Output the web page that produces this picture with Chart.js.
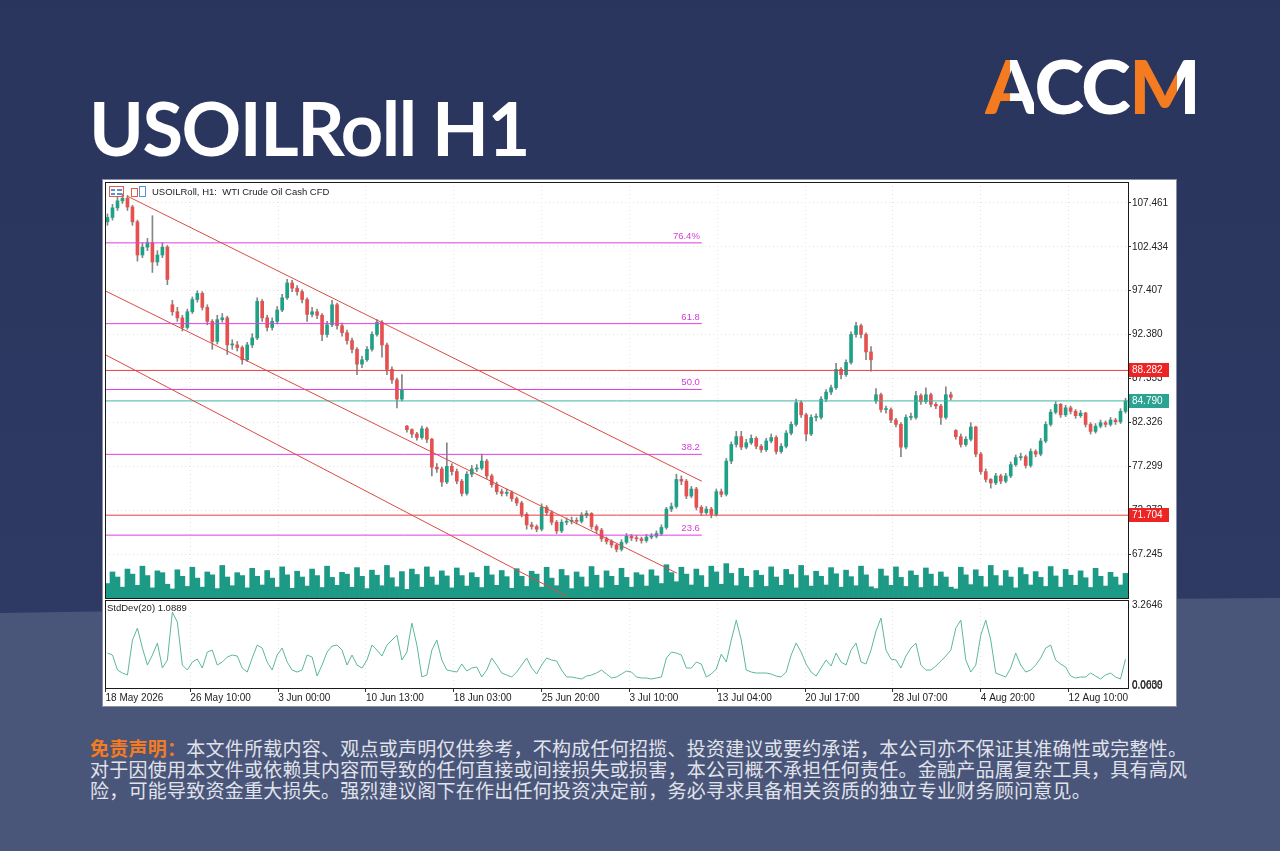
<!DOCTYPE html>
<html>
<head>
<meta charset="utf-8">
<script src="https://cdn.jsdelivr.net/npm/chart.js@4.4.1/dist/chart.umd.min.js"></script>
<style>
  html, body { margin: 0; padding: 0; }
  body { width: 1280px; height: 851px; position: relative; overflow: hidden;
         background: linear-gradient(180deg, #29355d 0%, #303c65 100%); }
  #band { position: absolute; left: 0; top: 0; width: 1280px; height: 851px; background: #4a5679;
          clip-path: polygon(0 613px, 640px 603px, 1280px 598px, 1280px 851px, 0 851px); }
  #title { position: absolute; left: 89px; top: 91px; font: 700 74px/1 Lato; letter-spacing: -1.5px; color: #fff; white-space: nowrap; }
  #logo { position: absolute; left: 985px; top: 48px; font: 900 75px/1 Lato; letter-spacing: -1.5px; color: #fff; white-space: nowrap; }
  #logo .a { background: linear-gradient(90deg, #f47b20 0 52%, #fff 52% 100%); -webkit-background-clip: text; background-clip: text; color: transparent; }
  #logo .m { background: linear-gradient(90deg, #f47b20 0 68%, #fff 68% 100%); -webkit-background-clip: text; background-clip: text; color: transparent; }
  #panel { position: absolute; left: 103px; top: 180px; width: 1073px; height: 526px; background: #fff; box-shadow: 0 0 0 1px #8a90a6; }
  #priceChart { position: absolute; left: 0; top: 0; }
  #stdChart { position: absolute; left: 0; top: 418px; }
  #note { position: absolute; left: 90px; top: 737px; font: 19px/21px "Noto Sans CJK SC"; letter-spacing: 0.25px; color: #e0e3eb; white-space: nowrap; }
  #note b { color: #f47b20; }
</style>
</head>
<body>
<div id="band"></div>
<div id="title">USOILRoll H1</div>
<div id="logo"><span class="a">A</span>CC<span class="m">M</span></div>
<div id="panel">
  <canvas id="priceChart" width="1073" height="420"></canvas>
  <canvas id="stdChart" width="1073" height="108"></canvas>
</div>
<div id="note"><b>免责声明：</b>本文件所载内容、观点或声明仅供参考，不构成任何招揽、投资建议或要约承诺，本公司亦不保证其准确性或完整性。<br>对于因使用本文件或依赖其内容而导致的任何直接或间接损失或损害，本公司概不承担任何责任。金融产品属复杂工具，具有高风<br>险，可能导致资金重大损失。强烈建议阁下在作出任何投资决定前，务必寻求具备相关资质的独立专业财务顾问意见。</div>

<script>
// ---- data (one entry ~ 7 H1 bars) ----
const dateLabels = ['18 May 2026', '26 May 10:00', '3 Jun 00:00', '10 Jun 13:00', '18 Jun 03:00', '25 Jun 20:00',
  '3 Jul 10:00', '13 Jul 04:00', '20 Jul 17:00', '28 Jul 07:00', '4 Aug 20:00', '12 Aug 10:00'];
const dateTickIndex = [-0.4, 16.6, 34.2, 51.8, 69.4, 87.0, 104.6, 122.2, 139.8, 157.4, 175.0, 192.6];
const priceTicks = [67.245, 72.272, 77.299, 82.326, 87.353, 92.380, 97.407, 102.434, 107.461];
const stdTicks = [0, 0.0639, 3.2646];

const opens = [105.3,105.8,106.9,107.7,108.0,107.0,105.3,101.5,102.4,102.9,
  100.7,101.5,102.4,95.8,95.0,94.3,93.2,95.0,96.4,97.1,
  95.5,93.9,91.6,94.1,94.3,91.2,91.2,90.9,89.5,91.2,
  92.0,96.2,94.3,93.2,93.9,95.2,96.6,98.3,97.7,97.3,
  96.4,94.7,95.0,94.6,92.4,93.5,95.8,93.4,92.6,91.7,
  90.7,89.0,89.5,90.7,92.4,93.8,91.2,88.4,87.2,85.0,
  81.9,81.5,81.0,80.6,81.6,80.4,77.2,77.0,75.5,77.3,
  76.7,75.6,74.2,76.4,77.0,77.1,77.9,76.2,75.2,74.4,
  74.2,74.3,73.6,73.1,71.8,70.6,70.4,70.1,72.6,72.0,
  70.9,69.9,70.9,71.0,71.1,71.0,71.7,71.9,70.4,70.0,
  69.0,68.7,68.3,67.8,68.6,69.3,69.1,69.0,68.8,69.2,
  69.3,69.6,70.3,72.4,72.7,75.8,75.6,73.9,74.7,72.6,
  72.0,72.4,71.8,74.4,74.1,77.9,79.8,80.7,79.5,80.0,
  80.5,79.6,79.2,80.2,80.6,79.0,79.6,81.1,82.1,84.6,
  83.2,81.0,82.9,82.9,85.0,85.8,86.3,88.4,87.8,89.2,
  92.4,93.4,92.4,90.4,84.8,85.5,83.8,83.8,82.6,82.1,
  79.5,82.9,82.9,85.4,84.7,85.5,84.4,84.2,82.9,85.5,
  81.4,80.7,79.8,80.4,81.8,78.7,76.7,75.8,75.4,76.2,
  75.6,76.2,77.5,78.3,78.4,77.4,79.0,78.7,80.2,82.1,
  83.5,84.4,83.2,84.0,83.6,83.1,83.4,82.1,81.3,81.9,
  82.3,82.1,82.6,82.4,83.6];
const highs = [106.2,107.3,108.2,108.5,108.3,107.2,105.5,102.9,103.4,106.0,
  102.0,102.9,102.6,96.3,95.5,94.6,95.3,96.7,97.4,97.3,
  95.8,94.1,94.6,94.8,94.5,91.8,91.6,91.1,91.5,92.5,
  96.6,96.4,94.6,94.3,95.6,97.0,98.7,98.6,98.0,97.5,
  96.6,95.5,95.3,94.8,93.9,96.3,96.0,93.7,92.9,92.0,
  90.9,89.9,91.0,92.7,94.1,94.0,91.4,88.7,87.4,87.8,
  82.0,81.6,81.2,81.9,81.8,80.5,77.6,77.2,80.0,77.6,
  77.0,75.8,76.7,77.4,77.5,78.7,78.1,76.4,75.5,74.7,
  74.7,74.5,73.8,73.3,72.0,70.9,70.6,73.0,72.8,72.2,
  71.1,71.2,71.4,71.5,71.4,72.0,72.2,72.0,70.6,70.2,
  69.2,68.9,68.4,68.9,69.6,69.5,69.4,69.2,69.5,69.6,
  69.9,70.6,72.6,73.1,76.4,76.2,75.8,75.0,74.9,72.8,
  72.7,72.6,74.7,74.7,78.2,80.1,81.3,81.3,80.4,80.9,
  80.7,79.8,80.5,81.0,80.8,79.9,81.4,82.4,85.0,84.8,
  83.4,83.2,83.3,85.3,86.1,86.6,89.1,88.6,89.5,92.7,
  93.8,93.6,92.6,91.0,86.2,85.7,84.2,84.0,82.8,82.3,
  83.2,83.4,85.9,85.6,86.3,85.7,84.6,84.4,86.4,85.8,
  81.5,81.0,80.7,82.3,81.9,78.9,77.0,75.9,76.5,76.4,
  76.5,77.8,78.6,78.8,78.6,79.3,79.2,80.5,82.4,83.8,
  84.7,84.5,84.3,84.2,83.8,83.7,83.5,82.3,82.2,82.6,
  82.5,82.9,82.8,83.9,85.1];
const lows = [104.9,105.5,106.6,107.4,106.6,104.9,100.8,101.2,102.0,99.5,
  100.3,101.2,98.1,94.6,93.9,92.8,93.0,94.8,96.1,95.2,
  93.5,90.7,91.3,93.8,90.1,90.7,90.5,89.0,89.3,90.9,
  91.8,93.9,92.8,92.9,93.6,95.0,96.4,97.3,96.9,96.0,
  93.9,94.4,94.2,91.7,92.1,93.3,93.0,92.2,91.3,90.3,
  87.8,88.6,89.3,90.5,92.2,89.8,87.8,86.8,84.0,84.8,
  81.2,80.6,80.3,80.4,80.0,76.2,76.6,75.0,75.3,76.3,
  75.3,73.9,74.0,76.1,76.7,76.9,75.9,74.9,74.1,73.9,
  73.9,73.3,72.8,71.5,70.1,70.1,69.8,69.9,71.7,70.6,
  69.6,69.7,70.6,70.7,70.7,70.8,71.4,70.1,69.7,68.7,
  68.4,68.0,67.5,67.6,68.4,68.8,68.7,68.5,68.6,69.0,
  69.1,69.4,70.1,72.1,72.5,75.2,73.6,73.7,72.3,71.7,
  71.8,71.4,71.6,73.8,73.9,77.6,79.5,79.2,79.3,79.8,
  79.3,78.9,79.0,80.0,78.7,78.8,79.4,80.9,81.9,82.9,
  80.2,80.8,82.5,82.7,84.7,85.5,86.1,87.3,87.6,89.0,
  92.1,92.0,89.5,88.2,84.5,83.5,83.4,82.3,81.8,78.4,
  79.3,82.6,82.7,84.4,84.5,84.1,83.9,82.1,82.7,84.9,
  80.4,79.5,79.6,80.2,78.4,76.4,75.5,74.8,75.2,75.3,
  75.4,76.0,77.3,78.0,77.1,77.2,78.4,78.5,80.0,81.9,
  83.3,82.9,83.0,83.3,82.8,82.9,81.8,81.0,81.1,81.7,
  81.8,81.9,82.1,82.2,83.4];
const closes = [105.8,106.9,107.7,108.0,107.0,105.3,101.5,102.4,102.9,100.7,
  101.5,102.4,98.7,95.0,94.3,93.2,95.0,96.4,97.1,95.5,
  93.9,91.6,94.1,94.3,91.2,91.2,90.9,89.5,91.2,92.0,
  96.2,94.3,93.2,93.9,95.2,96.6,98.3,97.7,97.3,96.4,
  94.7,95.0,94.6,92.4,93.5,95.8,93.4,92.6,91.7,90.7,
  89.0,89.5,90.7,92.4,93.8,91.2,88.4,87.2,85.0,86.1,
  81.5,81.0,80.6,81.6,80.4,77.2,77.0,75.5,77.3,76.7,
  75.6,74.2,76.4,77.0,77.1,77.9,76.2,75.2,74.4,74.2,
  74.3,73.6,73.1,71.8,70.6,70.4,70.1,72.6,72.0,70.9,
  69.9,70.9,71.0,71.1,71.0,71.7,71.9,70.4,70.0,69.0,
  68.7,68.3,67.8,68.6,69.3,69.1,69.0,68.8,69.2,69.3,
  69.6,70.3,72.4,72.7,75.8,75.6,73.9,74.7,72.6,72.0,
  72.4,71.8,74.4,74.1,77.9,79.8,80.7,79.5,80.0,80.5,
  79.6,79.2,80.2,80.6,79.0,79.6,81.1,82.1,84.6,83.2,
  81.0,82.9,82.9,85.0,85.8,86.3,88.4,87.8,89.2,92.4,
  93.4,92.4,90.4,89.5,85.5,83.8,83.8,82.6,82.1,79.5,
  82.9,82.9,85.4,84.7,85.5,84.4,84.2,82.9,85.5,85.2,
  80.7,79.8,80.4,81.8,78.7,76.7,75.8,75.4,76.2,75.6,
  76.2,77.5,78.3,78.4,77.4,79.0,78.7,80.2,82.1,83.5,
  84.4,83.2,84.0,83.6,83.1,83.4,82.1,81.3,81.9,82.3,
  82.1,82.6,82.4,83.6,84.79];
const volumes = [40,72,58,30,80,66,35,88,62,28,75,70,38,
  25,78,60,32,85,55,30,72,64,26,90,58,
  34,70,62,28,82,60,36,76,55,30,86,64,
  27,74,58,33,80,62,29,88,57,35,71,66,
  30,84,60,26,77,63,34,90,56,31,73,
  24,80,65,30,86,58,36,75,61,28,83,62,
  33,70,57,29,88,64,35,76,59,27,81,60,
  32,74,66,30,85,55,34,79,62,26,72,58,
  31,87,63,28,75,60,35,82,57,30,70,64,
  33,78,61,40,92,70,45,85,66,36,80,62,
  30,88,72,38,95,68,34,82,60,29,76,63,
  32,86,58,35,79,65,28,90,62,33,74,60,
  36,84,67,30,77,59,34,88,64,31,
  26,80,61,35,86,57,32,75,63,29,83,66,
  33,72,58,30,
  25,85,64,37,78,60,31,90,62,34,76,58,
  28,84,65,36,73,57,32,87,61,30,79,63,
  35,75,56,29,82,60,33,71,58,36,68];
const stdDev = [1.34,1.26,0.66,0.54,0.46,1.86,2.34,1.54,0.86,1.26,
  1.74,0.74,1.06,2.98,2.58,0.86,0.66,0.98,1.10,0.74,
  1.38,1.46,0.86,0.98,1.18,1.26,1.22,0.74,0.58,1.14,
  1.66,1.54,0.98,0.66,1.26,1.54,0.98,0.66,0.58,0.66,
  1.26,1.18,0.42,0.86,1.38,1.62,1.66,1.46,0.86,1.26,
  0.86,0.74,1.06,1.66,1.46,1.22,1.66,1.86,2.06,1.06,
  1.38,2.54,1.66,0.38,0.46,1.46,1.86,1.06,0.66,0.62,
  0.58,0.90,0.62,0.74,0.78,0.38,0.66,1.14,0.86,0.54,
  0.46,0.38,0.58,0.86,1.14,0.74,0.50,0.86,1.14,1.06,
  1.02,0.66,0.38,0.38,0.34,0.30,0.42,0.46,0.54,0.66,
  0.50,0.34,0.38,0.50,0.62,0.58,0.38,0.34,0.34,0.30,
  0.34,0.38,1.14,1.38,1.34,1.26,0.74,0.74,0.98,0.90,
  0.38,0.50,0.70,1.30,0.98,1.86,2.66,1.86,0.66,0.58,
  0.54,0.54,0.54,0.50,0.42,0.38,0.58,1.26,1.74,1.38,
  0.90,0.58,0.42,0.74,1.06,0.82,1.34,0.98,0.86,1.46,
  1.74,0.98,0.90,1.46,2.22,2.74,1.46,1.10,1.06,0.74,
  1.22,1.54,1.74,0.86,0.66,0.66,0.82,1.02,1.22,1.46,
  2.34,2.66,1.06,0.58,0.86,2.06,2.66,1.86,0.54,0.46,
  0.38,0.74,1.34,0.86,0.58,0.66,0.86,1.14,1.54,1.66,
  1.06,0.90,0.78,0.42,0.34,0.38,0.38,0.54,0.42,0.30,
  0.46,0.54,0.38,0.30,1.09];

// drawn objects, in bar index / price units
const fibLabels = ['76.4%', '61.8', '50.0', '38.2', '23.6'];
const fibPrices = [102.89, 93.64, 86.10, 78.67, 69.42];
const fibSpan = [-0.5, 119.1];
const channels = [[3.9, 108.26, 119.1, 75.59], [-0.5, 97.41, 114.1, 65.07], [-0.5, 90.10, 92.1, 62.41]];
const redLevels = [88.282, 71.704];
const lastPrice = 84.790;
const stdLast = 1.0889;

Chart.defaults.font.family = '"Liberation Sans", Arial, sans-serif';
Chart.defaults.animation = false;

const UP = '#1fa187', DOWN = '#e5514f';
const first = -0.5, last = closes.length - 0.5;

function seg(x1, y1, x2, y2, color) {
  return { type: 'line', data: [{ x: x1, y: y1 }, { x: x2, y: y2 }], borderColor: color, borderWidth: 1,
    pointRadius: 0, yAxisID: 'y', order: 0 };
}

let lineSets = [];
channels.forEach(c => lineSets.push(seg(c[0], c[1], c[2], c[3], '#dc4a44')));
fibPrices.forEach(p => lineSets.push(seg(fibSpan[0], p, fibSpan[1], p, '#e03ee0')));
redLevels.forEach(p => lineSets.push(seg(first, p, last, p, '#ec3d3d')));
lineSets.push(seg(first, lastPrice, last, lastPrice, '#3fb5a0'));

const zeroPad = s => { s.paddingTop = 0; s.paddingBottom = 0; s.paddingLeft = 0; s.paddingRight = 0; };

const priceDecor = {
  id: 'priceDecor',
  afterDraw(chart) {
    const { ctx, chartArea: a, scales: { x, y } } = chart;
    ctx.save();
    ctx.strokeStyle = '#1a1a1a';
    ctx.lineWidth = 1;
    ctx.strokeRect(Math.round(a.left) + 0.5, Math.round(a.top) + 0.5, Math.round(a.width), Math.round(a.height));

    ctx.font = '9.5px "Liberation Sans"';
    ctx.fillStyle = '#d63ad6';
    ctx.textAlign = 'right';
    ctx.textBaseline = 'bottom';
    fibLabels.forEach((t, k) => ctx.fillText(t, x.getPixelForValue(fibSpan[1]) - 2, y.getPixelForValue(fibPrices[k]) - 2));

    const box = (p, bg) => {
      const py = Math.round(y.getPixelForValue(p));
      ctx.fillStyle = bg;
      ctx.fillRect(a.right + 1, py - 7, 40, 14);
      ctx.fillStyle = '#fff';
      ctx.textAlign = 'left';
      ctx.textBaseline = 'middle';
      ctx.font = '10px "Liberation Sans"';
      ctx.fillText(p.toFixed(3), a.right + 4, py + 0.5);
    };
    redLevels.forEach(p => box(p, '#ee2424'));
    box(lastPrice, '#2aa393');

    // little MT icons and the header
    ctx.strokeStyle = '#e0603f';
    ctx.strokeRect(6.5, 6.5, 14, 10);
    ctx.fillStyle = '#5b8fd6';
    ctx.fillRect(8, 9, 4, 2); ctx.fillRect(14, 9, 5, 2); ctx.fillRect(8, 13, 4, 2); ctx.fillRect(14, 13, 5, 2);
    ctx.strokeStyle = '#e0603f';
    ctx.strokeRect(28.5, 8.5, 6, 8);
    ctx.strokeStyle = '#5b8fd6';
    ctx.strokeRect(36.5, 6.5, 6, 10);
    ctx.fillStyle = '#1c1c1c';
    ctx.font = '9.5px "Liberation Sans"';
    ctx.textAlign = 'left';
    ctx.textBaseline = 'middle';
    ctx.fillText('USOILRoll, H1:  WTI Crude Oil Cash CFD', 49, 12.5);
    ctx.restore();
  }
};

new Chart(document.getElementById('priceChart'), {
  type: 'bar',
  data: {
    datasets: [
      ...lineSets,
      { type: 'bar', data: opens.map((o, i) => ({ x: i, y: [o, closes[i]] })),
        backgroundColor: closes.map((c, i) => c >= opens[i] ? UP : DOWN),
        barThickness: 3, minBarLength: 1, grouped: false, order: 1 },
      { type: 'bar', data: lows.map((l, i) => ({ x: i, y: [l, highs[i]] })),
        backgroundColor: '#858585', barThickness: 1, grouped: false, order: 2 },
      { type: 'bar', data: volumes.map((v, i) => ({ x: i, y: v })), yAxisID: 'yv',
        backgroundColor: '#1d9a86', barPercentage: 1, categoryPercentage: 1, grouped: false, order: 3 }
    ]
  },
  options: {
    responsive: false,
    layout: { padding: { left: 2, top: 2, right: 0, bottom: 2 } },
    plugins: { legend: { display: false }, tooltip: { enabled: false } },
    scales: {
      x: { type: 'linear', min: first, max: last, offset: false,
        afterBuildTicks: s => { s.ticks = dateTickIndex.map(v => ({ value: v })); },
        ticks: { display: false, autoSkip: false },
        grid: { color: '#e2e2e2', drawTicks: false, offset: false },
        border: { display: false, dash: [1, 3] },
        afterFit: s => { s.height = 0; zeroPad(s); } },
      y: { position: 'right', min: 62.22, max: 109.86,
        afterBuildTicks: s => { s.ticks = priceTicks.map(v => ({ value: v })); },
        ticks: { autoSkip: false, color: '#222', padding: 1, font: { size: 10 }, callback: v => v.toFixed(3) },
        grid: { color: '#e2e2e2', tickColor: '#333', tickLength: 3, tickBorderDash: [] },
        border: { display: false, dash: [1, 3] },
        afterFit: s => { s.width = 48; zeroPad(s); } },
      yv: { display: false, min: 0, max: 1150 }
    }
  },
  plugins: [priceDecor]
});

const stdDecor = {
  id: 'stdDecor',
  afterDraw(chart) {
    const { ctx, chartArea: a } = chart;
    ctx.save();
    ctx.strokeStyle = '#1a1a1a';
    ctx.lineWidth = 1;
    ctx.strokeRect(Math.round(a.left) + 0.5, Math.round(a.top) + 0.5, Math.round(a.width), Math.round(a.height));
    ctx.fillStyle = '#1c1c1c';
    ctx.font = '9.5px "Liberation Sans"';
    ctx.textAlign = 'left';
    ctx.textBaseline = 'middle';
    ctx.fillText('StdDev(20) ' + stdLast.toFixed(4), a.left + 2, a.top + 8);
    ctx.restore();
  }
};

new Chart(document.getElementById('stdChart'), {
  type: 'line',
  data: {
    datasets: [{ data: stdDev.map((v, i) => ({ x: i, y: v })), borderColor: '#5cb895', borderWidth: 1,
      pointRadius: 0, tension: 0 }]
  },
  options: {
    responsive: false,
    layout: { padding: { left: 2, top: 2, right: 0, bottom: 0 } },
    plugins: { legend: { display: false }, tooltip: { enabled: false } },
    scales: {
      x: { type: 'linear', min: first, max: last,
        afterBuildTicks: s => { s.ticks = dateTickIndex.map(v => ({ value: v })); },
        ticks: { autoSkip: false, align: 'start', maxRotation: 0, padding: 0, color: '#222', font: { size: 10 },
          callback: (v, k) => dateLabels[k] },
        grid: { color: '#e2e2e2', tickColor: '#333', tickLength: 4, tickBorderDash: [] },
        border: { display: false, dash: [1, 3] },
        afterFit: s => { s.height = 18; zeroPad(s); } },
      y: { position: 'right', min: -0.06, max: 3.465,
        afterBuildTicks: s => { s.ticks = stdTicks.map(v => ({ value: v })); },
        ticks: { autoSkip: false, color: '#222', padding: 1, font: { size: 10 }, callback: v => v.toFixed(4) },
        grid: { display: false, drawTicks: true, tickColor: '#333', tickLength: 3 },
        border: { display: false },
        afterFit: s => { s.width = 48; zeroPad(s); } }
    }
  },
  plugins: [stdDecor]
});
</script>
</body>
</html>
